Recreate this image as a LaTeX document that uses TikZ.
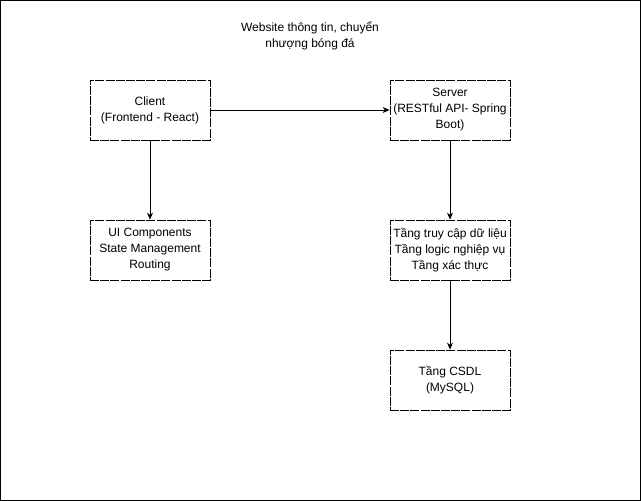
\documentclass[tikz,border=0pt]{standalone}
\usepackage{fontspec}
\setmainfont{Liberation Sans}
\usetikzlibrary{arrows.meta}
\begin{document}
\begin{tikzpicture}[x=1pt,y=-1pt,
  box/.style={draw, line width=0.8pt, dash pattern=on 9pt off 1.2pt, minimum width=120pt, minimum height=60pt, align=center, inner sep=0pt, font=\fontsize{12}{16}\selectfont},
  conn/.style={line width=0.8pt, -{Stealth[length=7pt,width=6pt]}}]
\useasboundingbox (0,0) rectangle (641,501);
\draw[line width=1pt] (0.5,0.5) rectangle (640.5,500.5);
\node[align=center, font=\fontsize{12}{16}\selectfont] (title) at (310,36) {Website thông tin, chuyển\\nhượng bóng đá};
\node[box] (client) at (150,110) {Client\\(Frontend - React)};
\node[box] (server) at (450,110) {Server\\(RESTful API- Spring\\Boot)};
\node[box] (ui) at (150,250) {UI Components\\State Management\\Routing};
\node[box] (tang) at (450,250) {Tầng truy cập dữ liệu\\Tầng logic nghiệp vụ\\Tầng xác thực};
\node[box] (csdl) at (450,380) {Tầng CSDL\\(MySQL)};
\draw[conn] (client) -- (server);
\draw[conn] (client) -- (ui);
\draw[conn] (server) -- (tang);
\draw[conn] (tang) -- (csdl);
\end{tikzpicture}
\end{document}
